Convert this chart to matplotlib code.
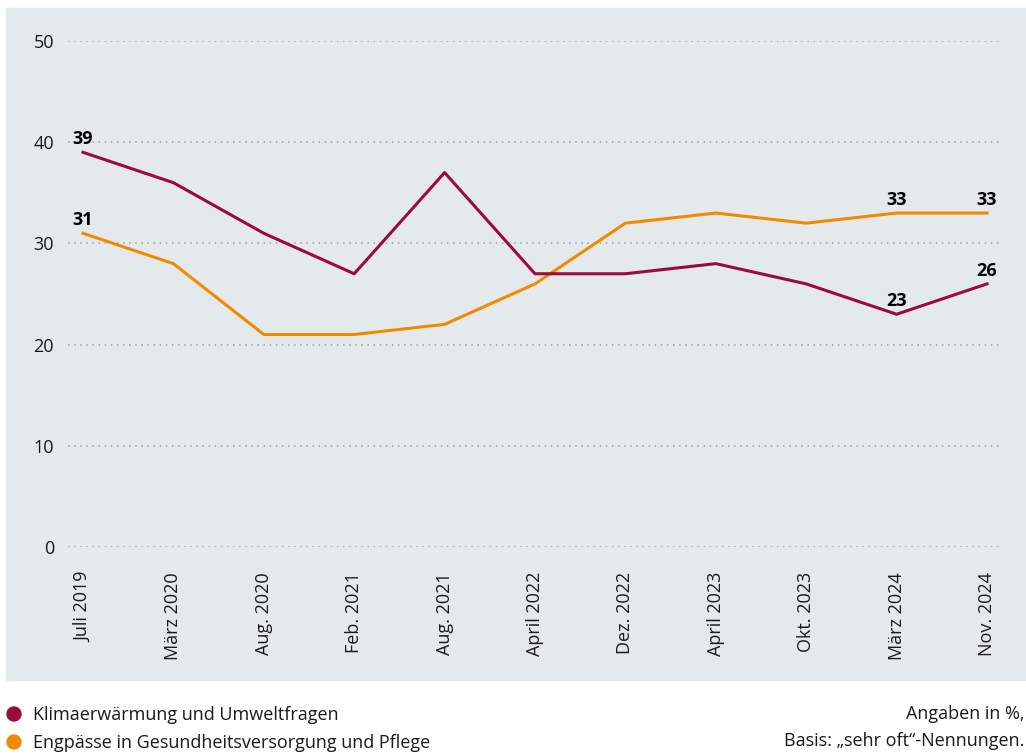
import matplotlib.pyplot as plt
from matplotlib.patches import Rectangle, Circle

plt.rcParams['font.family'] = ['Open Sans', 'DejaVu Sans']

dates = ['Juli 2019', 'März 2020', 'Aug. 2020', 'Feb. 2021', 'Aug. 2021', 'April 2022',
         'Dez. 2022', 'April 2023', 'Okt. 2023', 'März 2024', 'Nov. 2024']
klima = [39, 36, 31, 27, 37, 27, 27, 28, 26, 23, 26]
pflege = [31, 28, 21, 21, 22, 26, 32, 33, 32, 33, 33]
yticks = [0, 10, 20, 30, 40, 50]

# which points get a number printed on top
klima_labels = [0, 9, 10]
pflege_labels = [0, 9, 10]

c_klima = '#9b0c3b'
c_pflege = '#f08a00'
bg = '#e4e9ec'
fs = 13

W, H = 1026, 754
fig = plt.figure(figsize=(W / 100, H / 100), dpi=100)

# grey panel behind the chart
fig.add_artist(Rectangle((6 / W, 1 - 680 / H), 1 - 6 / W, (680 - 8) / H,
                         transform=fig.transFigure, color=bg, zorder=-5))

ax = fig.add_axes([68 / W, 1 - 547 / H, (1001 - 68) / W, (547 - 41) / H])
ax.set_facecolor('none')
ax.set_zorder(2)
x = list(range(len(dates)))
ax.set_xlim(-15 / 90.4, 10 + 14 / 90.4)
ax.set_ylim(0, 50)

for y in yticks:
    ax.axhline(y, color='#9a9fa3', linestyle=(0, (1, 3)), linewidth=1.1, zorder=1)

ax.plot(x, pflege, color=c_pflege, linewidth=2.2, zorder=3, clip_on=False)
ax.plot(x, klima, color=c_klima, linewidth=2.2, zorder=3, clip_on=False)

for i in klima_labels:
    ax.annotate(str(klima[i]), (x[i], klima[i]), xytext=(0, 3), textcoords='offset points',
                ha='center', va='bottom', fontsize=fs, fontweight='bold', color='black')
for i in pflege_labels:
    ax.annotate(str(pflege[i]), (x[i], pflege[i]), xytext=(0, 3), textcoords='offset points',
                ha='center', va='bottom', fontsize=fs, fontweight='bold', color='black')

ax.set_yticks(yticks)
ax.set_yticklabels([str(v) for v in yticks], fontsize=fs, color='#1a1a1a')
ax.set_xticks(x)
ax.set_xticklabels(dates, rotation=90, fontsize=fs, color='#1a1a1a')
ax.tick_params(axis='both', length=0)
ax.tick_params(axis='y', pad=10)
ax.tick_params(axis='x', pad=18)
for s in ax.spines.values():
    s.set_visible(False)

# legend below the panel
legend_items = [('Klimaerwärmung und Umweltfragen', c_klima),
                ('Engpässe in Gesundheitsversorgung und Pflege', c_pflege)]
for k, (label, col) in enumerate(legend_items):
    ypx = 714 + k * 28
    fig.add_artist(Circle((14 / 100, (H - ypx) / 100), 0.07,
                          transform=fig.dpi_scale_trans, color=col))
    fig.text(33 / W, 1 - (ypx + 1) / H, label, fontsize=fs, va='center', ha='left', color='#1a1a1a')

fig.text(1024 / W, 1 - 714 / H, 'Angaben in %,', fontsize=fs, ha='right', va='center', color='#1a1a1a')
fig.text(1024 / W, 1 - 741 / H, 'Basis: „sehr oft“-Nennungen.', fontsize=fs, ha='right', va='center',
         color='#1a1a1a')

fig.savefig('out.png', dpi=100)
